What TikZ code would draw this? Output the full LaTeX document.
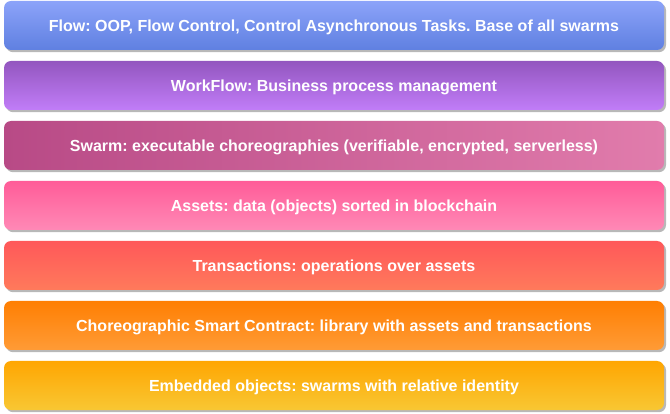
\documentclass[tikz,border=0pt]{standalone}
\usepackage{fontspec}
\setmainfont{Liberation Sans}
\usetikzlibrary{shadows}
\frenchspacing
\begin{document}
\begin{tikzpicture}[x=1pt,y=-1pt,
  layer/.style={rounded corners=7pt, minimum width=660pt, minimum height=49pt,
    inner sep=0pt, text=white, font=\fontsize{16}{19}\selectfont\bfseries,
    text height=11.5pt, text depth=0pt, draw=none,
    drop shadow={shadow xshift=2pt, shadow yshift=-2.2pt, fill=black!28, opacity=1}},
  vgrad/.style 2 args={top color=#1, bottom color=#2},
  hgrad/.style 2 args={left color=#1, right color=#2}]
\useasboundingbox (0,0) rectangle (670,414);
\definecolor{c1t}{HTML}{8CA3F9}\definecolor{c1b}{HTML}{5F80E1}
\definecolor{c2t}{HTML}{9356BF}\definecolor{c2b}{HTML}{C17DF8}
\definecolor{c3l}{HTML}{B84A86}\definecolor{c3r}{HTML}{E17CAC}
\definecolor{c4t}{HTML}{FF5C98}\definecolor{c4b}{HTML}{FF89B6}
\definecolor{c5t}{HTML}{FF585A}\definecolor{c5b}{HTML}{FF7A5B}
\definecolor{c6t}{HTML}{FF7F02}\definecolor{c6b}{HTML}{FF9B36}
\definecolor{c7t}{HTML}{FFA602}\definecolor{c7b}{HTML}{F8C733}

\node[layer, vgrad={c1t}{c1b}] (flow) at (334,25.5)
  {Flow: OOP, Flow Control, Control Asynchronous Tasks. Base of all swarms};
\node[layer, vgrad={c2t}{c2b}] (workflow) at (334,85.5)
  {WorkFlow: Business process management};
\node[layer, hgrad={c3l}{c3r}] (swarm) at (334,145.5)
  {Swarm: executable choreographies (verifiable, encrypted, serverless)};
\node[layer, vgrad={c4t}{c4b}] (assets) at (334,205.5)
  {Assets: data (objects) sorted in blockchain};
\node[layer, vgrad={c5t}{c5b}] (transactions) at (334,265.5)
  {Transactions: operations over assets};
\node[layer, vgrad={c6t}{c6b}] (contract) at (334,325.5)
  {Choreographic Smart Contract: library with assets and transactions};
\node[layer, vgrad={c7t}{c7b}] (embedded) at (334,385.5)
  {Embedded objects: swarms with relative identity};
\end{tikzpicture}
\end{document}
